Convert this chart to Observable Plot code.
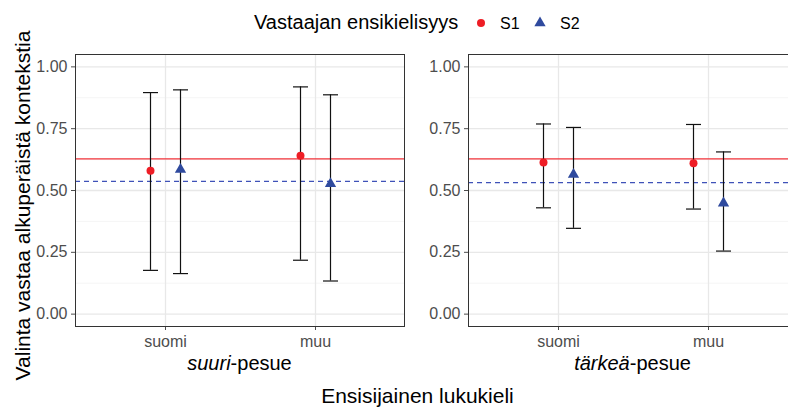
<!DOCTYPE html>
<html>
<head>
<meta charset="utf-8">
<script src="https://cdn.jsdelivr.net/npm/d3@7"></script>
<script src="https://cdn.jsdelivr.net/npm/@observablehq/plot@0.6"></script>
<style>
  body { margin: 0; background: #fff; }
  #root { position: relative; width: 788px; height: 408px; overflow: hidden; background: #fff;
          font-family: "Liberation Sans", Arial, Helvetica, sans-serif; }
  #root svg.panel { position: absolute; top: 0; }
  #overlay { position: absolute; left: 0; top: 0; pointer-events: none; }
</style>
</head>
<body>
<div id="root"></div>
<script>
// ---- data ----
const categories = ["suomi", "muu"];
const groups = ["S1", "S2"];
const yTicks = [0, 0.25, 0.5, 0.75, 1];
const yMinor = [0.125, 0.375, 0.625, 0.875];

// suuri-pesue panel
const suuriS1Est   = [0.580, 0.641];
const suuriS1Lower = [0.177, 0.218];
const suuriS1Upper = [0.896, 0.919];
const suuriS2Est   = [0.585, 0.527];
const suuriS2Lower = [0.164, 0.134];
const suuriS2Upper = [0.907, 0.887];
const suuriMeanS1 = 0.628;
const suuriMeanS2 = 0.537;

// tärkeä-pesue panel
const tarkeaS1Est   = [0.613, 0.610];
const tarkeaS1Lower = [0.430, 0.425];
const tarkeaS1Upper = [0.769, 0.767];
const tarkeaS2Est   = [0.565, 0.449];
const tarkeaS2Lower = [0.347, 0.255];
const tarkeaS2Upper = [0.755, 0.656];
const tarkeaMeanS1 = 0.628;
const tarkeaMeanS2 = 0.532;

// ---- styling ----
const RED = "#EE1D25";
const RED_LINE = "#F2333A";
const BLUE = "#2F4A9E";
const BLUE_LINE = "#3F52B8";
const FONT = '"Liberation Sans", Arial, Helvetica, sans-serif';

function rows(est, lo, hi) {
  return categories.map((c, i) => ({cat: c, est: est[i], lo: lo[i], hi: hi[i]}));
}

const capSymbol = {
  draw(context, size) {
    const w = Math.sqrt(size / Math.PI);
    context.moveTo(-w, 0);
    context.lineTo(w, 0);
  }
};

function errorMarks(data, dx, fill, symbol, r) {
  return [
    Plot.ruleX(data, {x: "cat", y1: "lo", y2: "hi", dx, stroke: "#111", strokeWidth: 1.2}),
    Plot.dot(data, {x: "cat", y: "lo", dx, r: 7.5, symbol: capSymbol, stroke: "#111", fill: "none", strokeWidth: 1.2}),
    Plot.dot(data, {x: "cat", y: "hi", dx, r: 7.5, symbol: capSymbol, stroke: "#111", fill: "none", strokeWidth: 1.2}),
    Plot.dot(data, {x: "cat", y: "est", dx, r, symbol, fill, stroke: "none"})
  ];
}

function panel(s1, s2, m1, m2, width, ml, mr) {
  return Plot.plot({
    width, height: 408,
    marginLeft: ml, marginRight: mr, marginTop: 54, marginBottom: 82,
    style: {fontFamily: FONT, fontSize: "16px", color: "#4d4d4d", background: "transparent", overflow: "visible"},
    x: {type: "point", domain: categories, padding: 0.59, tickSize: 4, tickPadding: 5, label: null},
    y: {domain: [-0.05, 1.05], ticks: yTicks, tickFormat: d3.format(".2f"), tickSize: 4, tickPadding: 4, label: null},
    marks: [
      Plot.ruleY(yMinor, {stroke: "#F2F2F2", strokeWidth: 0.8}),
      Plot.ruleY(yTicks, {stroke: "#E8E8E8", strokeWidth: 1.3}),
      Plot.ruleX(categories, {stroke: "#E8E8E8", strokeWidth: 1.3}),
      Plot.ruleY([m1], {stroke: RED_LINE, strokeWidth: 1.1}),
      Plot.ruleY([m2], {stroke: BLUE_LINE, strokeWidth: 1.1, strokeDasharray: "5,4"}),
      ...errorMarks(s1, -15, RED, "circle", 4),
      ...errorMarks(s2, 15, BLUE, "triangle", 4.2),
      Plot.frame({stroke: "#333", strokeWidth: 1})
    ]
  });
}

const root = document.getElementById("root");

const p1 = panel(rows(suuriS1Est, suuriS1Lower, suuriS1Upper),
                 rows(suuriS2Est, suuriS2Lower, suuriS2Upper),
                 suuriMeanS1, suuriMeanS2, 405, 75, 1);
p1.classList.add("panel");
p1.style.left = "0px";
root.appendChild(p1);

const p2 = panel(rows(tarkeaS1Est, tarkeaS1Lower, tarkeaS1Upper),
                 rows(tarkeaS2Est, tarkeaS2Lower, tarkeaS2Upper),
                 tarkeaMeanS1, tarkeaMeanS2, 395, 63, 3);
p2.classList.add("panel");
p2.style.left = "405px";
root.appendChild(p2);

// ---- overlay texts: legend, axis titles, facet labels ----
const svg = d3.select(root).append("svg")
  .attr("id", "overlay").attr("width", 788).attr("height", 408)
  .style("font-family", FONT);

// legend
svg.append("text").attr("x", 254).attr("y", 28.5).attr("font-size", 20).attr("fill", "#000")
  .text("Vastaajan ensikielisyys");
svg.append("path").attr("transform", "translate(481,23)")
  .attr("d", d3.symbol(d3.symbolCircle, Math.PI * 16)()).attr("fill", RED);
svg.append("text").attr("x", 500).attr("y", 28.5).attr("font-size", 16).attr("fill", "#000").text(groups[0]);
svg.append("path").attr("transform", "translate(540,23)")
  .attr("d", d3.symbol(d3.symbolTriangle, Math.PI * 4.2 * 4.2)()).attr("fill", BLUE);
svg.append("text").attr("x", 560).attr("y", 28.5).attr("font-size", 16).attr("fill", "#000").text(groups[1]);

// y title
svg.append("text").attr("transform", "translate(30,205.5) rotate(-90)")
  .attr("text-anchor", "middle").attr("font-size", 21).attr("fill", "#000")
  .text("Valinta vastaa alkuperäistä kontekstia");

// facet labels
function facetLabel(x, word) {
  const t = svg.append("text").attr("x", x).attr("y", 370).attr("text-anchor", "middle")
    .attr("font-size", 20).attr("fill", "#000");
  t.append("tspan").attr("font-style", "italic").text(word);
  t.append("tspan").text("-pesue");
}
facetLabel(239.5, "suuri");
facetLabel(632.5, "tärkeä");

// x title
svg.append("text").attr("x", 417.5).attr("y", 403).attr("text-anchor", "middle")
  .attr("font-size", 21).attr("fill", "#000").text("Ensisijainen lukukieli");
</script>
</body>
</html>
